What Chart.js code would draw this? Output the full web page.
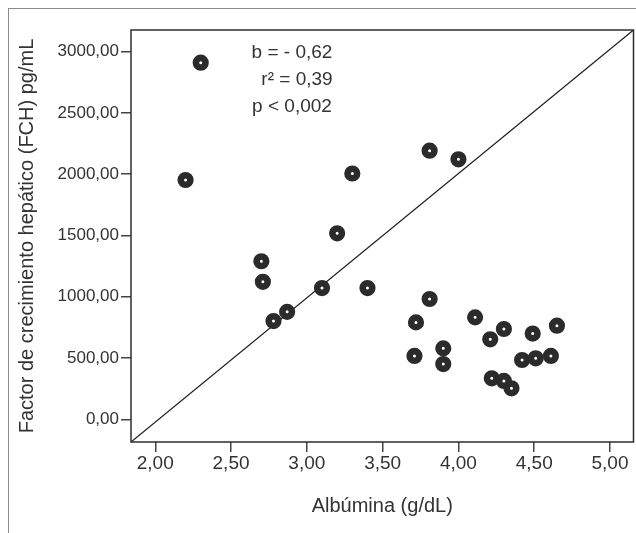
<!DOCTYPE html>
<html lang="es">
<head>
<meta charset="utf-8"/>
<title>FCH vs Albúmina</title>
<script src="https://cdn.jsdelivr.net/npm/chart.js"></script>
<style>
html, body { margin: 0; padding: 0; background: #fff; overflow: hidden; }
.wrap { position: relative; width: 636px; height: 533px; }
.frame {
  position: absolute; left: 8px; top: 8px; width: 700px; height: 700px;
  border-left: 1.5px solid #8c8c8c; border-top: 1.5px solid #8c8c8c;
  pointer-events: none;
}
canvas { position: absolute; left: 0; top: 0; }
</style>
</head>
<body>
<div class="wrap">
  <div class="frame"></div>
  <canvas id="scatter" width="636" height="533"></canvas>
</div>
<script>
// albúmina (g/dL)
const albumina = [2.30, 2.20, 2.70, 2.71, 2.78, 2.87, 3.10, 3.20, 3.30, 3.40,
                  3.81, 4.00, 3.81, 3.72, 4.11, 4.21, 4.30, 4.49, 4.65,
                  3.71, 3.90, 3.90, 4.42, 4.51, 4.61, 4.22, 4.30, 4.35];
// factor de crecimiento hepático (pg/mL)
const fch = [2910, 1953, 1290, 1122, 802, 877, 1071, 1518, 2006, 1071,
             2192, 2122, 982, 791, 832, 653, 737, 700, 764,
             517, 579, 451, 484, 498, 517, 335, 313, 253];
// límites y marcas de los ejes
const xRange = [1.84, 5.155];
const yRange = [-185, 3177];
const xTicks = [2.0, 2.5, 3.0, 3.5, 4.0, 4.5, 5.0];
const yTicks = [0, 500, 1000, 1500, 2000, 2500, 3000];
const statLines = ["b = - 0,62", "r\u00B2 = 0,39", "p < 0,002"];

const FONT = "'Liberation Sans', Arial, sans-serif";
const INK = "#333333";

const fmt = v => v.toFixed(2).replace(".", ",");

const plotFrame = {
  id: "plotFrame",
  afterDatasetsDraw(chart) {
    const { ctx, chartArea: a } = chart;
    ctx.save();
    ctx.strokeStyle = "#2e2e2e";
    ctx.lineWidth = 1.5;
    ctx.strokeRect(a.left, a.top, a.right - a.left, a.bottom - a.top);
    // texto de estadísticos
    ctx.fillStyle = INK;
    ctx.font = "19px " + FONT;
    ctx.textAlign = "center";
    ctx.textBaseline = "alphabetic";
    const xs = [292, 297, 292];
    statLines.forEach((t, i) => ctx.fillText(t, xs[i], 58 + i * 27));
    ctx.restore();
  }
};

new Chart(document.getElementById("scatter"), {
  type: "scatter",
  data: {
    datasets: [
      {
        label: "FCH",
        data: albumina.map((x, i) => ({ x: x, y: fch[i] })),
        pointRadius: 4.8,
        pointBorderWidth: 6.6,
        pointBackgroundColor: "#ffffff",
        pointBorderColor: "#2b2b2b",
        pointHoverRadius: 4.8,
        order: 1
      },
      {
        type: "line",
        label: "referencia",
        data: [{ x: xRange[0], y: yRange[0] }, { x: xRange[1], y: yRange[1] }],
        borderColor: "#1a1a1a",
        borderWidth: 1.2,
        pointRadius: 0,
        fill: false,
        order: 2
      }
    ]
  },
  options: {
    responsive: false,
    animation: false,
    layout: { autoPadding: false, padding: { left: 0, top: 30, right: 2.5, bottom: 0 } },
    plugins: {
      legend: { display: false },
      tooltip: { enabled: false },
      title: { display: false }
    },
    scales: {
      x: {
        type: "linear",
        min: xRange[0],
        max: xRange[1],
        border: { display: false },
        grid: { drawOnChartArea: false, drawTicks: true, tickLength: 10, color: "#444", lineWidth: 1.5 },
        ticks: {
          padding: 0,
          color: INK,
          font: { family: FONT, size: 19 },
          callback: v => fmt(v)
        },
        afterBuildTicks: s => { s.ticks = xTicks.map(v => ({ value: v })); },
        title: {
          display: true,
          text: "Albúmina (g/dL)",
          color: INK,
          font: { family: FONT, size: 20 },
          padding: { top: 0, bottom: 15 }
        },
        afterFit: s => {
          s.height = 91;
          s.paddingLeft = 0;
          s.paddingRight = 0;
        }
      },
      y: {
        type: "linear",
        min: yRange[0],
        max: yRange[1],
        border: { display: false },
        grid: { drawOnChartArea: false, drawTicks: true, tickLength: 10, color: "#444", lineWidth: 1.5 },
        ticks: {
          padding: 2,
          color: INK,
          font: { family: FONT, size: 17 },
          callback: v => fmt(v)
        },
        afterBuildTicks: s => { s.ticks = yTicks.map(v => ({ value: v })); },
        title: {
          display: true,
          text: "Factor de crecimiento hepático (FCH) pg/mL",
          color: INK,
          font: { family: FONT, size: 20 },
          padding: { top: 15, bottom: 0 }
        },
        afterFit: s => {
          s.width = 131;
          s.paddingTop = 0;
          s.paddingBottom = 0;
        }
      }
    }
  },
  plugins: [plotFrame]
});
</script>
</body>
</html>
